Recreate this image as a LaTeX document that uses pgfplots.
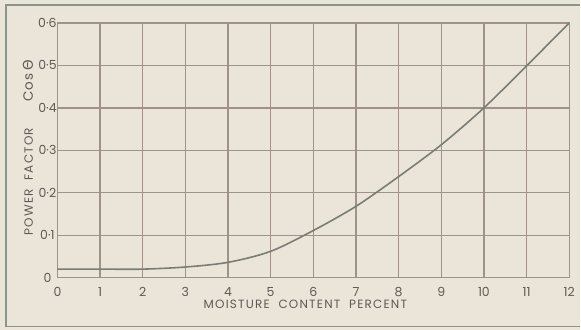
\documentclass[border=0pt]{standalone}
\usepackage{pgfplots}
\pgfplotsset{compat=1.18}
\usepackage{fontspec}
\setmainfont{Poppins}
\newfontfamily\gr{DejaVu Sans}
\newfontfamily\spaced{Poppins}[LetterSpace=10]
\definecolor{bg}{HTML}{EAE5D8}
\definecolor{gridc}{HTML}{A0928B}
\definecolor{curve}{HTML}{787E74}
\definecolor{txt}{HTML}{5E5A56}
\definecolor{frame}{HTML}{8A968A}
\begin{document}
\begin{tikzpicture}[x=1pt,y=1pt]
\fill[bg] (0,0) rectangle (581,330);
\draw[frame, line width=1.6pt] (6,3) -- (6,325) -- (581,325);
\draw[frame, line width=1.2pt] (6,3) -- (581,3);
\begin{axis}[
  at={(57.5pt,52pt)}, anchor=south west,
  scale only axis, width=512.5pt, height=255pt,
  xmin=0, xmax=12, ymin=0, ymax=0.6,
  xtick={0,1,...,12},
  ytick={0,0.1,0.2,0.3,0.4,0.5,0.6},
  yticklabels={0,0·1,0·2,0·3,0·4,0·5,0·6},
  /pgf/number format/assume math mode=true,
  grid=major,
  major grid style={gridc, line width=1.3pt},
  axis line style={gridc, line width=1.3pt},
  tick style={draw=none},
  xticklabel style={txt, font=\fontsize{12.5}{14}\selectfont, anchor=center, yshift=-14pt},
  yticklabel style={txt, font=\fontsize{12.5}{14}\selectfont, anchor=center, xshift=-10pt},
  xlabel={MOISTURE\ \ CONTENT\ \ PERCENT},
  xlabel style={txt, font=\spaced\fontsize{12}{14}\selectfont, at={(axis description cs:0.5,0)}, anchor=center, yshift=-27pt, xshift=-8pt},
  ylabel={POWER\ \ FACTOR\hspace{26pt}{\fontsize{13.5}{14}\selectfont Cos\,{\gr Θ}}},
  ylabel style={txt, font=\spaced\fontsize{12}{14}\selectfont, at={(axis description cs:-0.0576,0.51)}, anchor=center},
]
\addplot[curve, line width=1.6pt, smooth] coordinates {
(0,0.02) (1,0.02) (2,0.02) (3,0.025) (4,0.036) (5,0.062) (6,0.111) (7,0.168) (8,0.238) (9,0.313) (10,0.4) (11,0.499) (12,0.6)
};
\end{axis}
\end{tikzpicture}
\end{document}
